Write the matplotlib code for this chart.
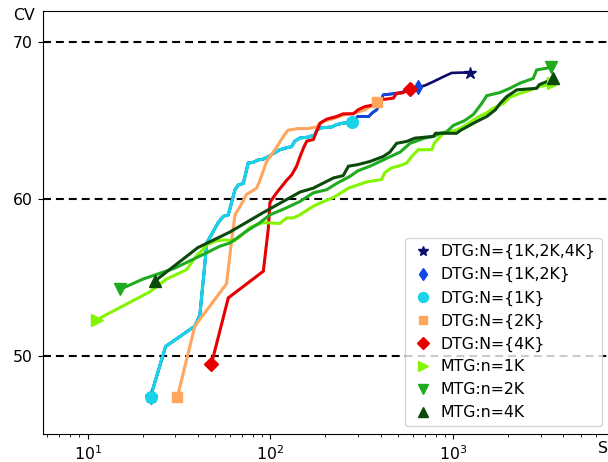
import matplotlib
matplotlib.use("Agg")
import matplotlib.pyplot as plt

# ---- DTG curves (S, CV) ----
dtg_1k_s = [22.1, 26.7, 38.6, 41.1, 43.8, 44.8, 51.8, 55.2, 58.8, 64.0, 66.7, 71.0, 75.6,
            80.5, 85.8, 91.3, 97.2, 103.5, 112.7, 120, 130.5, 136, 145, 160, 175, 179,
            190, 216, 230, 250, 280]
dtg_1k_cv = [47.4, 50.6, 51.9, 52.6, 55.9, 57.2, 58.5, 58.9, 59.0, 60.6, 60.9, 61.0, 62.3,
             62.35, 62.5, 62.55, 62.7, 62.9, 63.15, 63.25, 63.35, 63.7, 63.9, 63.95, 64.1, 64.4,
             64.55, 64.6, 64.75, 64.85, 64.9]

dtg_12k_s = dtg_1k_s + [300, 345, 360, 381, 395, 414, 500, 560, 640]
dtg_12k_cv = dtg_1k_cv + [65.27, 65.27, 65.5, 65.7, 66.1, 66.65, 66.76, 66.9, 67.13]

dtg_124k_s = dtg_12k_s + [700, 780, 880, 980, 1100, 1233]
dtg_124k_cv = dtg_12k_cv + [67.25, 67.5, 67.8, 68.05, 68.07, 68.07]

dtg_2k_s = [31.0, 38.6, 57.5, 61.4, 64.0, 68.0, 74.0, 79.0, 84.0, 87.6, 95.3, 108, 117.5,
            125, 142, 160, 179, 187, 200, 230, 256, 290, 330, 350, 381]
dtg_2k_cv = [47.4, 51.9, 54.6, 57.4, 59.0, 59.5, 60.3, 60.5, 60.7, 61.2, 62.4, 63.3, 64.0,
             64.4, 64.5, 64.5, 64.6, 64.85, 65.0, 65.2, 65.4, 65.5, 65.7, 65.9, 66.2]

dtg_4k_s = [47.6, 58.8, 91.4, 97.3, 99.4, 108, 122.6, 130.7, 139, 145, 152, 158, 171.5,
            180, 187, 203, 230, 250, 284, 302, 328, 365, 397, 470, 490, 522, 580]
dtg_4k_cv = [49.5, 53.7, 55.4, 58.1, 59.8, 60.4, 61.2, 61.55, 62.1, 62.7, 63.3, 63.7, 63.8,
             64.4, 64.85, 65.1, 65.27, 65.44, 65.44, 65.7, 65.9, 66.0, 66.33, 66.44, 66.76,
             66.76, 67.0]

# ---- MTG curves (S, CV) ----
mtg_1k_s = [11.2, 22, 27, 34.8, 39.4, 42.9, 44.8, 50.8, 57.6, 62.6, 68.1, 77.3, 91.4, 112.7,
            122.6, 133.4, 145, 171.5, 186.8, 221, 267, 300, 336, 405, 423, 460, 500, 556,
            600, 644, 762, 790, 882, 1042, 1183, 1288, 1400, 1520, 1656, 1877, 2042, 2317,
            2630, 2985, 3454, 3524]
mtg_1k_cv = [52.3, 54.1, 54.9, 55.5, 56.4, 56.8, 57.1, 57.35, 57.4, 57.3, 57.6, 58.2, 58.5,
             58.45, 58.8, 58.8, 59.0, 59.55, 59.75, 60.1, 60.7, 60.9, 61.1, 61.25, 61.7, 62.0,
             62.1, 62.3, 62.8, 63.15, 63.15, 63.6, 64.2, 64.4, 64.75, 65.05, 65.3, 65.5, 65.8,
             66.1, 66.5, 66.75, 66.95, 67.2, 67.3, 67.4]

mtg_2k_s = [15.0, 20.1, 30, 40, 53, 60, 75, 87.6, 99.4, 120, 145, 171.5, 203, 230, 272, 300,
            350, 397, 450, 512, 580, 700, 780, 850, 920, 1000, 1150, 1288, 1430, 1524, 1800,
            2042, 2317, 2735, 2857, 3234, 3422]
mtg_2k_cv = [54.24, 54.9, 55.6, 56.3, 57.0, 57.2, 58.0, 58.5, 59.0, 59.4, 59.85, 60.4, 60.6,
             61.0, 61.45, 61.8, 62.1, 62.4, 62.7, 63.0, 63.56, 63.9, 64.0, 64.2, 64.3, 64.7,
             65.0, 65.4, 66.1, 66.6, 66.8, 67.07, 67.4, 67.7, 68.24, 68.35, 68.45]

mtg_4k_s = [23.3, 40, 60, 90, 145, 171.5, 186.8, 221, 250, 267, 300, 350, 414, 450, 490,
            556, 617, 778, 800, 1042, 1100, 1183, 1342, 1524, 1700, 1802, 1960, 2225, 2857,
            2950, 3234, 3524]
mtg_4k_cv = [54.77, 56.9, 57.9, 59.1, 60.45, 60.7, 60.92, 61.35, 61.5, 62.1, 62.2, 62.4,
             62.72, 63.0, 63.56, 63.68, 63.89, 64.0, 64.2, 64.2, 64.4, 64.6, 64.95, 65.27,
             65.7, 66.1, 66.54, 66.97, 67.07, 67.3, 67.49, 67.71]

# label, S, CV, colour, marker, marker size, line width
series = [
    ("DTG:N={1K,2K,4K}", dtg_124k_s, dtg_124k_cv, "#0b0b6b", "*", 9.0, 1.9),
    ("DTG:N={1K,2K}", dtg_12k_s, dtg_12k_cv, "#1148e0", "d", 7.6, 2.0),
    ("DTG:N={1K}", dtg_1k_s, dtg_1k_cv, "#19d3e8", "o", 8.4, 2.3),
    ("DTG:N={2K}", dtg_2k_s, dtg_2k_cv, "#ffa55c", "s", 7.6, 2.2),
    ("DTG:N={4K}", dtg_4k_s, dtg_4k_cv, "#e60000", "D", 6.8, 2.2),
    ("MTG:n=1K", mtg_1k_s, mtg_1k_cv, "#84f500", ">", 9.0, 2.2),
    ("MTG:n=2K", mtg_2k_s, mtg_2k_cv, "#1faa1f", "v", 9.0, 2.2),
    ("MTG:n=4K", mtg_4k_s, mtg_4k_cv, "#0b4a0b", "^", 9.0, 2.2),
]

FS = 11.3
fig = plt.figure(figsize=(6.08, 4.62), dpi=100)
ax = fig.add_axes([0.0702, 0.0600, 0.9331, 0.9162])

for i, (label, xs, ys, color, marker, ms, lw) in enumerate(series):
    ax.plot(xs, ys, color=color, lw=lw, zorder=2 + i * 0.01, solid_joinstyle="miter")
    ax.plot([xs[0], xs[-1]], [ys[0], ys[-1]], ls="none", marker=marker, ms=ms,
            color=color, label=label, zorder=3 + i * 0.01)

ax.set_xscale("log")
ax.set_xlim(5.68, 7195)
ax.set_ylim(45, 72)
ax.set_yticks([50, 60, 70])
ax.tick_params(labelsize=FS)
ax.yaxis.grid(True, color="k", ls=(0, (3.8, 2.4)), lw=1.5)
ax.set_axisbelow(True)

ax.text(-0.014, 0.99, "CV", transform=ax.transAxes, ha="right", va="center", fontsize=FS)
ax.text(0.978, -0.017, "S", transform=ax.transAxes, ha="left", va="top", fontsize=FS)

ax.legend(loc="lower right", fontsize=FS, numpoints=1, handlelength=1.5,
          handletextpad=0.4, borderaxespad=0.5, markerscale=0.85)

fig.savefig("out.png", dpi=100)
